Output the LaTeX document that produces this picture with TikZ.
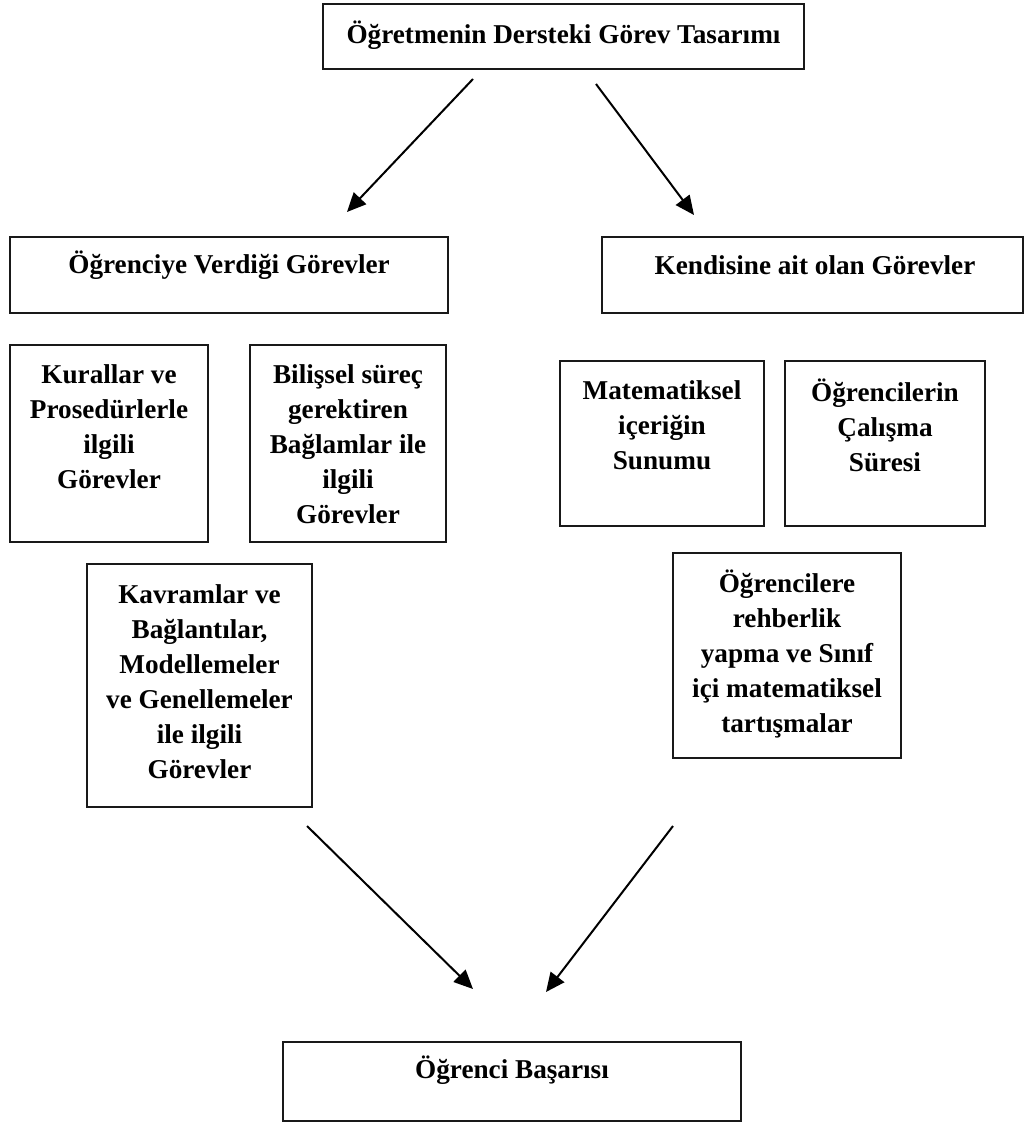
\documentclass[tikz,border=0pt]{standalone}
\usepackage{fontspec}
\setmainfont{Liberation Serif}
\usetikzlibrary{arrows.meta}
\tikzset{
  box/.style={draw=black!90, line width=2pt, rectangle, inner sep=0pt, fill=none},
  txt/.style={align=center, inner sep=0pt, font=\fontsize{27.2}{35}\selectfont\bfseries},
  flow/.style={line width=2pt, -{Triangle[length=19pt,width=17pt]}}
}
\begin{document}
\begin{tikzpicture}[x=1pt,y=-1pt]
\useasboundingbox (0,0) rectangle (1026,1122);
\fill[white] (0,0) rectangle (1026,1122);

% frames
\node[box, minimum width=481pt, minimum height=65pt] (top) at (563.5,36.5) {};
\node[box, minimum width=438pt, minimum height=76pt] (ogr) at (229,275) {};
\node[box, minimum width=421pt, minimum height=76pt] (kend) at (812.5,275) {};
\node[box, minimum width=198pt, minimum height=197pt] (kural) at (109,443.5) {};
\node[box, minimum width=196pt, minimum height=197pt] (bilis) at (348,443.5) {};
\node[box, minimum width=225pt, minimum height=243pt] (kavram) at (199.5,685.5) {};
\node[box, minimum width=204pt, minimum height=165pt] (matem) at (662,443.5) {};
\node[box, minimum width=200pt, minimum height=165pt] (sure) at (885,443.5) {};
\node[box, minimum width=228pt, minimum height=205pt] (rehber) at (787,655.5) {};
\node[box, minimum width=458pt, minimum height=79pt] (basari) at (512,1081.5) {};

% labels
\node[txt] (t-top) at (563.5,35) {Öğretmenin Dersteki Görev Tasarımı};
\node[txt] (t-ogr) at (229,265) {Öğrenciye Verdiği Görevler};
\node[txt] (t-kend) at (815,265) {Kendisine ait olan Görevler};
\node[txt] (t-kural) at (109,427) {Kurallar ve\\Prosedürlerle\\ilgili\\Görevler};
\node[txt] (t-bilis) at (348,444) {Bilişsel süreç\\gerektiren\\Bağlamlar ile\\ilgili\\Görevler};
\node[txt] (t-kavram) at (199.5,682) {Kavramlar ve\\Bağlantılar,\\Modellemeler\\ve Genellemeler\\ile ilgili\\Görevler};
\node[txt] (t-matem) at (662,425) {Matematiksel\\içeriğin\\Sunumu};
\node[txt] (t-sure) at (885,425) {Öğrencilerin\\Çalışma\\Süresi};
\node[txt] (t-rehber) at (787,654) {Öğrencilere\\rehberlik\\yapma ve Sınıf\\içi matematiksel\\tartışmalar};
\node[txt] (t-basari) at (512,1070) {Öğrenci Başarısı};

% arrow end points
\coordinate (a1s) at (473,79);  \coordinate (a1e) at (347,212);
\coordinate (a2s) at (596,84);  \coordinate (a2e) at (694,215);
\coordinate (a3s) at (307,826); \coordinate (a3e) at (473,989);
\coordinate (a4s) at (673,826); \coordinate (a4e) at (546,992);

\draw[flow] (a1s) -- (a1e);
\draw[flow] (a2s) -- (a2e);
\draw[flow] (a3s) -- (a3e);
\draw[flow] (a4s) -- (a4e);
\end{tikzpicture}
\end{document}
